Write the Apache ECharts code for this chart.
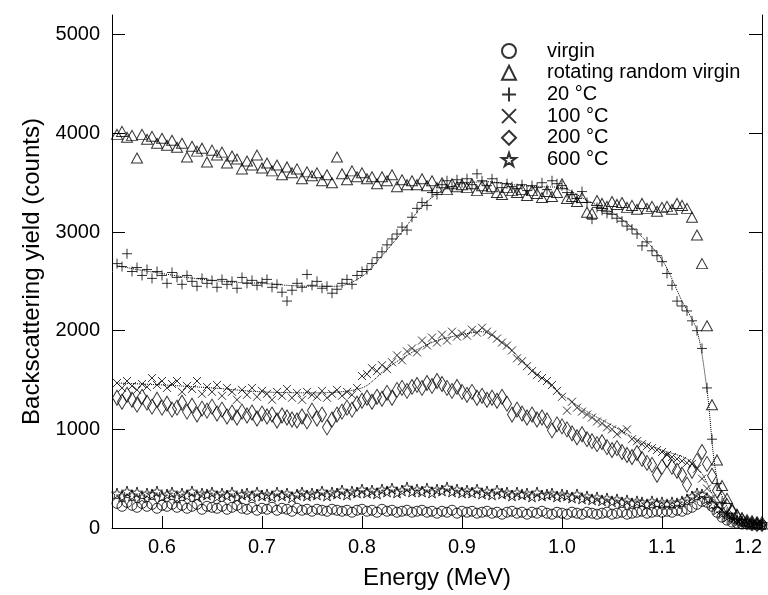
<!DOCTYPE html>
<html>
<head>
<meta charset="utf-8">
<script src="https://cdn.jsdelivr.net/npm/echarts@6/dist/echarts.min.js"></script>
<style>
  html, body { margin: 0; padding: 0; background: #fff; }
  #chart { width: 768px; height: 595px; }
</style>
</head>
<body>
<div id="chart"></div>
<script>
// energy channels (MeV)
var energy = [
  0.555, 0.560, 0.565, 0.570, 0.575, 0.580, 0.585, 0.590, 0.595, 0.600,
  0.605, 0.610, 0.615, 0.620, 0.625, 0.630, 0.635, 0.640, 0.645, 0.650,
  0.655, 0.660, 0.665, 0.670, 0.675, 0.680, 0.685, 0.690, 0.695, 0.700,
  0.705, 0.710, 0.715, 0.720, 0.725, 0.730, 0.735, 0.740, 0.745, 0.750,
  0.755, 0.760, 0.765, 0.770, 0.775, 0.780, 0.785, 0.790, 0.795, 0.800,
  0.805, 0.810, 0.815, 0.820, 0.825, 0.830, 0.835, 0.840, 0.845, 0.850,
  0.855, 0.860, 0.865, 0.870, 0.875, 0.880, 0.885, 0.890, 0.895, 0.900,
  0.905, 0.910, 0.915, 0.920, 0.925, 0.930, 0.935, 0.940, 0.945, 0.950,
  0.955, 0.960, 0.965, 0.970, 0.975, 0.980, 0.985, 0.990, 0.995, 1.000,
  1.005, 1.010, 1.015, 1.020, 1.025, 1.030, 1.035, 1.040, 1.045, 1.050,
  1.055, 1.060, 1.065, 1.070, 1.075, 1.080, 1.085, 1.090, 1.095, 1.100,
  1.105, 1.110, 1.115, 1.120, 1.125, 1.130, 1.135, 1.140, 1.145, 1.150,
  1.155, 1.160, 1.165, 1.170, 1.175, 1.180, 1.185, 1.190, 1.195, 1.200
];

var virgin = [
  250, 220, 260, 230, 210, 250, 220, 240, 200, 230,
  220, 240, 210, 230, 200, 220, 240, 190, 220, 210,
  200, 220, 190, 210, 230, 200, 190, 210, 180, 200,
  190, 210, 180, 200, 190, 170, 200, 180, 190, 170,
  190, 180, 170, 190, 180, 170, 180, 160, 180, 190,
  170, 180, 160, 190, 170, 180, 160, 170, 180, 160,
  170, 180, 160, 170, 150, 170, 160, 180, 150, 170,
  160, 170, 150, 160, 170, 150, 160, 140, 160, 170,
  150, 160, 140, 160, 150, 170, 150, 140, 160, 150,
  140, 160, 150, 140, 160, 150, 140, 150, 160, 140,
  150, 160, 140, 150, 160, 170, 150, 160, 170, 160,
  170, 160, 180, 170, 190, 210, 240, 270, 260, 220,
  160, 110, 80, 60, 50, 40, 40, 30, 30, 30
];

var randomVirgin = [
  3990, 4020, 3960, 3980, 3750, 3990, 3940, 3970, 3900, 3950,
  3880, 3930, 3860, 3900, 3760, 3870, 3820, 3850, 3710, 3830,
  3780, 3810, 3700, 3770, 3740, 3640, 3720, 3680, 3780, 3650,
  3700, 3620, 3680, 3580, 3660, 3600, 3640, 3540, 3610, 3570,
  3600, 3520, 3580, 3500, 3760, 3590, 3530, 3620, 3560, 3600,
  3540, 3560, 3490, 3560, 3520, 3580, 3460, 3530, 3480, 3520,
  3480, 3540, 3470, 3520, 3450, 3500, 3430, 3490, 3460, 3480,
  3450, 3490, 3420, 3470, 3440, 3460, 3400, 3380, 3450, 3420,
  3400, 3430, 3370, 3420, 3390, 3350, 3410, 3360, 3400, 3490,
  3340, 3360, 3310, 3350, 3200, 3190, 3320, 3290, 3260, 3310,
  3280, 3300, 3250, 3270, 3230, 3290, 3240, 3260, 3210, 3250,
  3260, 3230, 3290, 3270, 3240, 3150, 2970, 2680, 2050, 1250,
  690, 430, 300, 200, 140, 100, 70, 60, 50, 40
];

var t20 = [
  2680, 2650, 2780, 2600, 2640, 2560, 2620, 2530, 2600, 2560,
  2480, 2590, 2540, 2470, 2560, 2500, 2450, 2530, 2480, 2510,
  2440, 2520, 2470, 2500, 2430, 2540, 2480, 2510, 2460, 2490,
  2520, 2440, 2470, 2390, 2300, 2410, 2480, 2440, 2570, 2460,
  2500, 2430, 2450, 2380, 2420, 2480, 2520, 2470, 2560, 2600,
  2620, 2680, 2740, 2800, 2870, 2930, 2980, 3050, 3020, 3150,
  3240, 3300, 3270, 3400, 3380, 3480, 3520, 3460, 3530, 3500,
  3540, 3480, 3590, 3520, 3470, 3540, 3500, 3450, 3490, 3460,
  3440, 3480, 3420, 3470, 3450, 3500, 3430, 3520, 3490, 3470,
  3400, 3380, 3340, 3410, 3300, 3130, 3250, 3220, 3190, 3180,
  3140, 3110, 3060, 3030, 2980, 2860, 2900, 2810, 2760, 2700,
  2580, 2460, 2300, 2250, 2200, 2100, 2000, 1820, 1420, 900,
  450, 260, 150, 100, 80, 60, 50, 40, 40, 30
];

var t100 = [
  1470, 1420, 1490, 1440, 1400, 1460, 1430, 1520, 1450, 1490,
  1420, 1460, 1490, 1380, 1440, 1410, 1490, 1360, 1430, 1380,
  1450, 1340, 1420, 1380, 1300, 1400, 1350, 1420, 1330, 1390,
  1360, 1300, 1380, 1340, 1410, 1320, 1370, 1300, 1380, 1350,
  1330, 1390, 1320, 1360, 1400, 1340, 1380, 1350, 1420, 1540,
  1560, 1620, 1590, 1650, 1610, 1680, 1750, 1700, 1790, 1820,
  1780, 1900, 1850, 1930, 1880, 1960, 1900, 1990, 1940, 1970,
  1950, 2010, 1980, 2030, 1990, 1960, 1920, 1880, 1850, 1800,
  1720, 1690, 1640, 1590, 1550, 1520, 1490, 1450, 1390, 1330,
  1190, 1280, 1220, 1180, 1150, 1120, 1080, 1060, 1020, 1000,
  950, 980, 1000, 900, 880, 850, 830, 810, 790, 770,
  740, 720, 700, 680, 660, 650, 600, 500, 400, 300,
  230, 180, 130, 100, 80, 60, 50, 40, 40, 30
];

var t200 = [
  1320, 1280, 1350, 1300, 1250, 1330, 1270, 1230, 1300, 1220,
  1260, 1200, 1220, 1270, 1180, 1240, 1150, 1210, 1190, 1230,
  1160, 1200, 1130, 1170, 1120, 1180, 1140, 1170, 1110, 1160,
  1130, 1150, 1090, 1140, 1120, 1100, 1090, 1130, 1080, 1190,
  1110, 1150, 1020, 1100, 1150, 1180, 1220, 1200, 1260, 1290,
  1320, 1280, 1330, 1310, 1370, 1320, 1400, 1420, 1390, 1430,
  1450, 1420, 1470, 1440, 1490, 1460, 1420, 1390, 1430, 1380,
  1350, 1380, 1320, 1340, 1300, 1320, 1290, 1330, 1260, 1150,
  1200, 1160, 1120, 1150, 1100, 1120, 1090, 990, 1050, 1030,
  1000, 960, 920, 950, 900, 880, 850, 870, 820, 790,
  810, 770, 740, 720, 760, 700, 660, 640, 540, 620,
  690, 620, 580, 540, 440, 580, 680, 770, 650, 530,
  380, 300, 220, 160, 110, 80, 60, 50, 40, 40
];

var t600 = [
  350, 320, 370, 330, 360, 310, 350, 340, 370, 320,
  340, 360, 310, 350, 330, 370, 320, 350, 340, 360,
  320, 350, 330, 360, 310, 340, 350, 320, 360, 330,
  340, 320, 360, 330, 350, 310, 340, 360, 330, 350,
  340, 370, 330, 360, 350, 380, 340, 370, 360, 390,
  360, 380, 350, 390, 370, 400, 360, 380, 410, 370,
  390, 370, 400, 360, 390, 380, 410, 370, 390, 360,
  380, 360, 390, 350, 370, 340, 380, 350, 360, 330,
  360, 340, 350, 320, 360, 330, 340, 350, 320, 340,
  330, 310, 340, 300, 320, 290, 310, 280, 300, 270,
  290, 260, 280, 250, 270, 260, 240, 270, 250, 260,
  240, 260, 250, 270, 290, 320, 350, 340, 300, 240,
  190, 150, 120, 100, 80, 70, 60, 50, 50, 40
];

// dotted simulation curves
var fit20E = [0.555, 0.575, 0.600, 0.625, 0.650, 0.675, 0.700, 0.725, 0.750, 0.775, 0.800, 0.820, 0.840, 0.860, 0.880, 0.900, 0.925, 0.950, 0.975, 1.000, 1.025, 1.050, 1.075, 1.100, 1.120, 1.135, 1.145, 1.155, 1.170, 1.200];
var fit20 = [2660, 2620, 2580, 2540, 2510, 2490, 2480, 2460, 2450, 2450, 2550, 2760, 3000, 3260, 3420, 3490, 3510, 3480, 3460, 3450, 3320, 3200, 3000, 2720, 2300, 2000, 1400, 500, 150, 40];
var fit100E = [0.555, 0.600, 0.650, 0.700, 0.750, 0.800, 0.825, 0.850, 0.875, 0.900, 0.920, 0.940, 0.960, 0.980, 1.000, 1.025, 1.050, 1.075, 1.100, 1.125, 1.140, 1.150, 1.160, 1.180, 1.200];
var fit100 = [1470, 1450, 1420, 1380, 1370, 1420, 1620, 1780, 1900, 1960, 1990, 1880, 1700, 1520, 1350, 1180, 1040, 900, 790, 700, 550, 350, 180, 60, 40];

var xTicks = [0.6, 0.7, 0.8, 0.9, 1.0, 1.1, 1.2];
var yTicks = [0, 1000, 2000, 3000, 4000, 5000];
var names = ['virgin', 'rotating random virgin', '20 °C', '100 °C', '200 °C', '600 °C'];

function pairs(xs, ys) {
  var out = [];
  for (var i = 0; i < ys.length; i++) out.push([xs[i], ys[i]]);
  return out;
}

var FONT = 'Liberation Sans, Arial, Helvetica, sans-serif';
var hollow = { color: 'rgba(0,0,0,0)', borderColor: '#000', borderWidth: 1 };
var STAR = 'path://M50,0L61.8,36.2L100,36.2L69.1,58.8L80.9,95.1L50,72.7L19.1,95.1L30.9,58.8L0,36.2L38.2,36.2Z';

function scat(name, data, symbol, size) {
  return {
    name: name, type: 'scatter', data: data,
    symbol: symbol, symbolSize: size,
    itemStyle: hollow, z: 3, animation: false
  };
}

function fit(xs, ys) {
  return {
    type: 'line', data: pairs(xs, ys), showSymbol: false, smooth: 0.3,
    lineStyle: { color: '#000', width: 1, type: 'dotted' },
    z: 2, silent: true, animation: false
  };
}

var option = {
  backgroundColor: '#fff',
  animation: false,
  grid: { left: 112, right: 6, top: 15, bottom: 64 },
  legend: {
    orient: 'vertical', left: 496, top: 36,
    itemWidth: 14, itemHeight: 14, itemGap: 1.7,
    data: names,
    textStyle: { fontFamily: FONT, fontSize: 20, color: '#000', lineHeight: 20, padding: [0, 0, 0, 26] }
  },
  xAxis: {
    type: 'value', min: 0.55, max: 1.2,
    name: 'Energy (MeV)', nameLocation: 'middle', nameGap: 38,
    nameTextStyle: { fontFamily: FONT, fontSize: 24, color: '#000' },
    axisLine: { lineStyle: { color: '#000', width: 1 } },
    axisTick: { inside: true, length: 12, customValues: xTicks, lineStyle: { color: '#000' } },
    axisLabel: { customValues: xTicks, alignMaxLabel: 'right', margin: 9, fontFamily: FONT, fontSize: 20, color: '#000',
      formatter: function (v) { return v.toFixed(1); } },
    splitLine: { show: false }
  },
  yAxis: [{
    type: 'value', min: 0, max: 5200, position: 'left',
    name: 'Backscattering yield (counts)', nameLocation: 'middle', nameGap: 66,
    nameTextStyle: { fontFamily: FONT, fontSize: 24, color: '#000' },
    axisLine: { show: true, lineStyle: { color: '#000', width: 1 } },
    axisTick: { show: true, inside: true, length: 13, customValues: yTicks, lineStyle: { color: '#000' } },
    axisLabel: { customValues: yTicks, margin: 12, fontFamily: FONT, fontSize: 20, color: '#000',
      formatter: function (v) { return String(v); } },
    splitLine: { show: false }
  }, {
    type: 'value', min: 0, max: 5200, position: 'right',
    axisLine: { show: true, lineStyle: { color: '#000', width: 1 } },
    axisTick: { show: true, inside: true, length: 13, customValues: yTicks, lineStyle: { color: '#000' } },
    axisLabel: { show: false },
    splitLine: { show: false }
  }],
  series: [
    fit(fit20E, fit20),
    fit(fit100E, fit100),
    scat(names[0], pairs(energy, virgin), 'circle', 10),
    scat(names[1], pairs(energy, randomVirgin), 'triangle', [11, 10]),
    scat(names[2], pairs(energy, t20), 'path://M5,0L5,10M0,5L10,5', 10),
    scat(names[3], pairs(energy, t100), 'path://M0,0L10,10M10,0L0,10', 8),
    scat(names[4], pairs(energy, t200), 'diamond', [9, 15]),
    scat(names[5], pairs(energy, t600), STAR, 11)
  ]
};

var myChart = echarts.init(document.getElementById('chart'));
myChart.setOption(option);
</script>
</body>
</html>
